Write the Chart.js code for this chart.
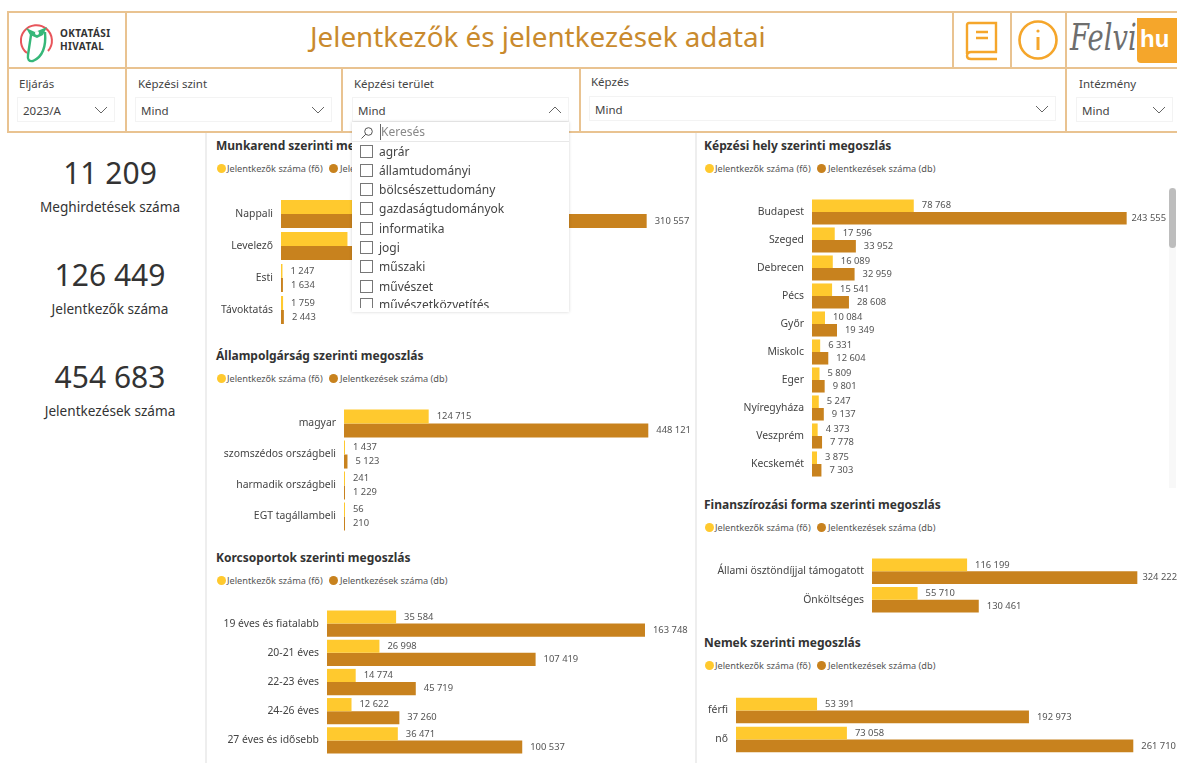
<!DOCTYPE html>
<html lang="hu">
<head>
<meta charset="utf-8">
<title>Jelentkezők és jelentkezések adatai</title>
<script src="https://cdn.jsdelivr.net/npm/chart.js@4/dist/chart.umd.min.js"></script>
<style>
    html, body { margin: 0; padding: 0; background: #fff; width: 1177px; height: 763px; overflow: hidden; }
    body { position: relative; font-family: "Noto Sans", sans-serif; color: #333; }
    .abs { position: absolute; white-space: nowrap; }
    .hline, .vline { position: absolute; background: #e9c391; }
    .edge { position: absolute; background: #eeeeee; }
    .main-title { left: 310px; top: 16px; font-size: 27.8px; line-height: 40px; color: #c98a2d; }
    .slicer-label { font-size: 11.5px; line-height: 16px; color: #444; }
    .slicer-box { position: absolute; box-sizing: border-box; border: 1px solid #f3f3f3; font-size: 11.5px; line-height: 25px; padding-left: 5px; color: #444; }
    .slicer-box svg { position: absolute; right: 5px; top: 7px; }
    .kpi-value { width: 200px; left: 10px; text-align: center; font-size: 30px; line-height: 40px; color: #333; }
    .kpi-label { width: 200px; left: 10px; text-align: center; font-size: 13.6px; line-height: 18px; color: #333; }
    .panel-title { font-size: 12px; font-weight: 700; line-height: 16px; color: #333; }
    .legend-dot { position: absolute; width: 9px; height: 9px; border-radius: 50%; }
    .legend-text { font-size: 9.2px; line-height: 12px; color: #555; }
    canvas { position: absolute; }
    #dropdown { position: absolute; left: 352px; top: 122px; width: 217px; height: 190px; background: #fff; box-shadow: 0 0 3px rgba(0,0,0,.18); overflow: hidden; z-index: 5; }
    #dropdown .item { position: absolute; left: 27px; font-size: 12px; line-height: 16px; color: #444; white-space: nowrap; }
    #dropdown .box { position: absolute; left: 8px; width: 11px; height: 11px; border: 1px solid #777; }
    #search { position: absolute; left: 28px; top: 2px; font-size: 12px; line-height: 16px; color: #888; border-left: 1px solid #666; }
    #searchline { position: absolute; left: 0; top: 19px; width: 217px; height: 1px; background: #e8e8e8; }
    #ddcover { position: absolute; left: 0; top: 186px; width: 217px; height: 4px; background: #fff; }
</style>
</head>
<body>
<script>
/* Felvételi adatok - 2023/A */
const YELLOW = '#ffc92e';
const BROWN = '#c8821e';
const LEGEND_A = 'Jelentkezők száma (fő)';
const LEGEND_B = 'Jelentkezések száma (db)';

const munkarendLabels = ['Nappali', 'Levelező', 'Esti', 'Távoktatás'];
const munkarendFo = [67000, 56443, 1247, 1759];   // az első kettő a legördülő alatt van, becsült
const munkarendDb = [310557, 140049, 1634, 2443];

const allampolgarLabels = ['magyar', 'szomszédos országbeli', 'harmadik országbeli', 'EGT tagállambeli'];
const allampolgarFo = [124715, 1437, 241, 56];
const allampolgarDb = [448121, 5123, 1229, 210];

const korLabels = ['19 éves és fiatalabb', '20-21 éves', '22-23 éves', '24-26 éves', '27 éves és idősebb'];
const korFo = [35584, 26998, 14774, 12622, 36471];
const korDb = [163748, 107419, 45719, 37260, 100537];

const helyLabels = ['Budapest', 'Szeged', 'Debrecen', 'Pécs', 'Győr', 'Miskolc', 'Eger', 'Nyíregyháza', 'Veszprém', 'Kecskemét'];
const helyFo = [78768, 17596, 16089, 15541, 10084, 6331, 5809, 5247, 4373, 3875];
const helyDb = [243555, 33952, 32959, 28608, 19349, 12604, 9801, 9137, 7778, 7303];

const finanszLabels = ['Állami ösztöndíjjal támogatott', 'Önköltséges'];
const finanszFo = [116199, 55710];
const finanszDb = [324222, 130461];

const nemLabels = ['férfi', 'nő'];
const nemFo = [53391, 73058];
const nemDb = [192973, 261710];

const kpiValues = ['11 209', '126 449', '454 683'];
const kpiLabels = ['Meghirdetések száma', 'Jelentkezők száma', 'Jelentkezések száma'];
const areaItems = ['agrár', 'államtudományi', 'bölcsészettudomány', 'gazdaságtudományok', 'informatika', 'jogi', 'műszaki', 'művészet', 'művészetközvetítés'];

function el(cls, css, text) {
    const d = document.createElement('div');
    d.className = cls;
    Object.assign(d.style, css);
    if (text !== undefined) d.textContent = text;
    document.body.appendChild(d);
    return d;
}

// header and slicer frame
function drawFrame() {
    [[7, 11, 1170, 2], [7, 67, 1170, 2], [7, 131, 1170, 2]].forEach(([x, y, w, h]) => el('hline', { left: x + 'px', top: y + 'px', width: w + 'px', height: h + 'px' }));
    [[7, 11, 122], [125, 11, 122], [341, 69, 64], [579, 69, 64], [952, 11, 58], [1010, 11, 58], [1065, 11, 122]].forEach(([x, y, h]) => el('vline', { left: x + 'px', top: y + 'px', width: '2px', height: h + 'px' }));
    el('abs main-title', {}, 'Jelentkezők és jelentkezések adatai');

    [[205, 133, 2, 630], [695, 133, 2, 630], [1169, 188, 7, 300]].forEach(([x, y, w, h]) => el('edge', { left: x + 'px', top: y + 'px', width: w + 'px', height: h + 'px', background: x === 1169 ? '#f8f8f8' : '#eeeeee' }));
    el('', { position: 'absolute', left: '1169px', top: '188px', width: '7px', height: '60px', borderRadius: '4px', background: '#bdbdbd' });

    const chevron = up => `<svg width="16" height="10" viewBox="0 0 16 10"><path d="${up ? 'M2 8 L8 2 L14 8' : 'M2 2 L8 8 L14 2'}" fill="none" stroke="#666" stroke-width="1"/></svg>`;
    [
        ['Eljárás', 19, 76, 17, 97, 98, '2023/A', false],
        ['Képzési szint', 138, 76, 135, 97, 197, 'Mind', false],
        ['Képzési terület', 354, 76, 352, 97, 217, 'Mind', true],
        ['Képzés', 591, 74, 589, 96, 467, 'Mind', false],
        ['Intézmény', 1079, 76, 1076, 97, 97, 'Mind', false]
    ].forEach(([label, lx, ly, bx, by, bw, val, up]) => {
        el('abs slicer-label', { left: lx + 'px', top: ly + 'px' }, label);
        const b = el('slicer-box', { left: bx + 'px', top: by + 'px', width: bw + 'px', height: '25px' }, val);
        b.insertAdjacentHTML('beforeend', chevron(up));
    });
}

function drawLogos() {
    document.body.insertAdjacentHTML('beforeend', `
    <svg class="abs" style="left:18px;top:20px" width="38" height="46" viewBox="0 0 38 46" fill="none">
        <path d="M9 33 A15.5 15.5 0 1 1 30 31" stroke="#e8555b" stroke-width="2"/>
        <path d="M13 15 L10 35 Q9 42 15 41 Q29 35 27 12" stroke="#36b779" stroke-width="2.4"/>
        <path d="M8 8 L17 12 L29 7 L25 15 L19 18 L12 15 Z" fill="#36b779"/>
        <circle cx="19" cy="13" r="2" fill="#fff"/>
    </svg>
    <div class="abs" style="left:60px;top:27px;font-size:10px;line-height:13px;font-weight:700;color:#333;letter-spacing:.4px">OKTATÁSI<br>HIVATAL</div>
    <svg class="abs" style="left:964px;top:20px" width="36" height="42" viewBox="0 0 36 42" fill="none" stroke="#f5a62b" stroke-width="2.4">
        <path d="M3 34 V5 Q3 3 5 3 H32 V32 H7 Q3 32 3 36 Q3 39 7 39 H33"/>
        <path d="M12 12 H24 M12 18 H24"/>
    </svg>
    <svg class="abs" style="left:1017px;top:18px" width="42" height="44" viewBox="0 0 42 44" fill="none" stroke="#f5a62b" stroke-width="2.6">
        <circle cx="21" cy="22" r="18.5"/>
        <path d="M21 19 V32" stroke-width="3"/>
        <circle cx="21" cy="13" r="1.6" fill="#f5a62b" stroke="none"/>
    </svg>
    <div class="abs" style="left:1137px;top:18px;width:40px;height:45px;background:#f5a62b;border-radius:0 0 0 4px;color:#fff;font-size:24px;font-weight:700;line-height:42px;padding-left:3px;box-sizing:border-box;font-family:'Liberation Sans Narrow',sans-serif">hu</div>
    <div class="abs" style="left:1070px;top:15px;font-size:38px;line-height:44px;font-style:italic;font-family:'DejaVu Serif',serif;color:#6e6e6e;transform:scaleX(.72);transform-origin:left">Felvi</div>`);
}

function drawKpis() {
    [153, 255, 357].forEach((y, i) => {
        el('abs kpi-value', { top: y + 'px' }, kpiValues[i]);
        el('abs kpi-label', { top: (y + 45) + 'px' }, kpiLabels[i]);
    });
}

function drawDropdown() {
    const dd = document.createElement('div');
    dd.id = 'dropdown';
    dd.innerHTML = `<svg style="position:absolute;left:8px;top:4px" width="14" height="14" viewBox="0 0 14 14" fill="none" stroke="#555"><circle cx="8.5" cy="5.5" r="3.8"/><path d="M5.8 8.2 L1.5 12.5"/></svg>
        <div id="search">Keresés</div><div id="searchline"></div>`;
    [22, 41, 60, 79, 99, 118, 137, 157, 175].forEach((y, i) => {
        dd.insertAdjacentHTML('beforeend', `<div class="box" style="top:${y + 1}px"></div><div class="item" style="top:${y}px">${areaItems[i]}</div>`);
    });
    dd.insertAdjacentHTML('beforeend', '<div id="ddcover"></div>');
    document.body.appendChild(dd);
}

// value labels next to the bars, spaces as thousand separators
const barValueLabels = {
    id: 'barValueLabels',
    afterDatasetsDraw(chart) {
        const { ctx } = chart;
        ctx.save();
        ctx.font = '9.4px "Noto Sans"';
        ctx.fillStyle = '#555';
        ctx.textBaseline = 'middle';
        chart.data.datasets.forEach((set, i) => {
            chart.getDatasetMeta(i).data.forEach((bar, j) => {
                const txt = String(set.data[j]).replace(/\B(?=(\d{3})+$)/g, ' ');
                // labels near the edge get pushed back inside, like in Power BI
                const x = Math.min(bar.x + 8, chart.width - ctx.measureText(txt).width);
                ctx.fillText(txt, x, bar.y);
            });
        });
        ctx.restore();
    }
};

function createPanel(p) {
    el('abs panel-title', { left: p.titleX + 'px', top: p.titleY + 'px' }, p.title);
    const ly = p.titleY + 24;
    el('legend-dot', { left: p.titleX + 1 + 'px', top: ly + 2 + 'px', background: YELLOW });
    el('abs legend-text', { left: p.titleX + 11 + 'px', top: ly + 1 + 'px' }, LEGEND_A);
    el('legend-dot', { left: p.titleX + 113 + 'px', top: ly + 2 + 'px', background: BROWN });
    el('abs legend-text', { left: p.titleX + 124 + 'px', top: ly + 1 + 'px' }, LEGEND_B);

    const canvas = document.createElement('canvas');
    canvas.width = p.right - p.left;
    canvas.height = p.height;
    canvas.style.left = p.left + 'px';
    canvas.style.top = p.top + 'px';
    document.body.appendChild(canvas);

    new Chart(canvas.getContext('2d'), {
        type: 'bar',
        data: {
            labels: p.labels,
            datasets: [
                { label: LEGEND_A, data: p.fo, backgroundColor: YELLOW, borderWidth: 0, minBarLength: 1 },
                { label: LEGEND_B, data: p.db, backgroundColor: BROWN, borderWidth: 0, minBarLength: 1 }
            ]
        },
        options: {
            indexAxis: 'y',
            responsive: false,
            animation: false,
            devicePixelRatio: 1,
            layout: { padding: 0, autoPadding: false },
            datasets: { bar: { categoryPercentage: p.catPct, barPercentage: 1 } },
            plugins: { legend: { display: false }, tooltip: { enabled: false }, title: { display: false } },
            scales: {
                x: { display: false, min: 0, max: p.axisMax },
                y: {
                    grid: { display: false, tickLength: 0 },
                    border: { display: false },
                    afterFit(scale) {
                        // the tick padding would otherwise also shrink the plot vertically
                        scale.width = p.x0 - p.left;
                        scale.paddingTop = 0;
                        scale.paddingBottom = 0;
                    },
                    ticks: { color: '#444', padding: 8, autoSkip: false, font: { family: 'Noto Sans', size: 10.4 } }
                }
            }
        },
        plugins: [barValueLabels]
    });
}

drawFrame();
drawLogos();
drawKpis();

[
    { title: 'Munkarend szerinti megoszlás', titleX: 216, titleY: 138, labels: munkarendLabels, fo: munkarendFo, db: munkarendDb, left: 208, right: 695, top: 198, height: 128, x0: 281, axisMax: 351600, catPct: 0.875 },
    { title: 'Állampolgárság szerinti megoszlás', titleX: 216, titleY: 348, labels: allampolgarLabels, fo: allampolgarFo, db: allampolgarDb, left: 208, right: 695, top: 408, height: 124, x0: 344, axisMax: 516900, catPct: 0.906 },
    { title: 'Korcsoportok szerinti megoszlás', titleX: 216, titleY: 550, labels: korLabels, fo: korFo, db: korDb, left: 208, right: 695, top: 609, height: 146, x0: 327, axisMax: 189500, catPct: 0.9 },
    { title: 'Képzési hely szerinti megoszlás', titleX: 704, titleY: 138, labels: helyLabels, fo: helyFo, db: helyDb, left: 698, right: 1166, top: 198, height: 280, x0: 812, axisMax: 274000, catPct: 0.895 },
    { title: 'Finanszírozási forma szerinti megoszlás', titleX: 704, titleY: 497, labels: finanszLabels, fo: finanszFo, db: finanszDb, left: 698, right: 1177, top: 557, height: 57, x0: 872, axisMax: 372700, catPct: 0.9 },
    { title: 'Nemek szerinti megoszlás', titleX: 704, titleY: 635, labels: nemLabels, fo: nemFo, db: nemDb, left: 698, right: 1177, top: 696, height: 58, x0: 736, axisMax: 290500, catPct: 0.88 }
].forEach(createPanel);

drawDropdown();
</script>
</body>
</html>
